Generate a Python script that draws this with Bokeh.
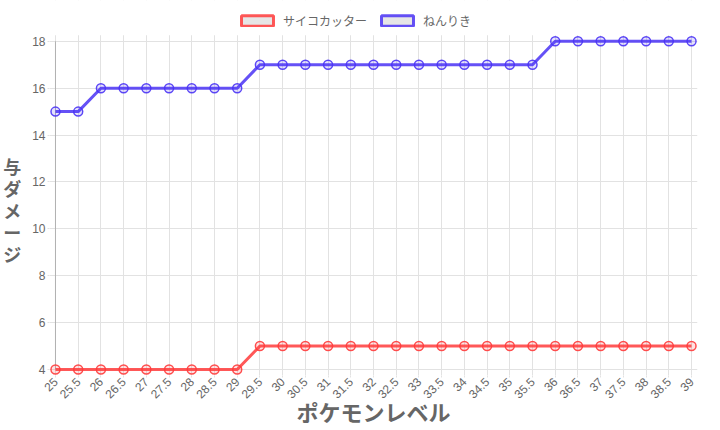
import math
from bokeh.plotting import figure
from bokeh.models import (ColumnDataSource, Range1d, FixedTicker, Legend, LegendItem, BoxAnnotation)
from bokeh.embed import file_html
from bokeh.resources import INLINE

levels = [25, 25.5, 26, 26.5, 27, 27.5, 28, 28.5, 29, 29.5, 30, 30.5, 31, 31.5, 32,
          32.5, 33, 33.5, 34, 34.5, 35, 35.5, 36, 36.5, 37, 37.5, 38, 38.5, 39]
level_labels = ["25", "25.5", "26", "26.5", "27", "27.5", "28", "28.5", "29", "29.5",
                "30", "30.5", "31", "31.5", "32", "32.5", "33", "33.5", "34", "34.5",
                "35", "35.5", "36", "36.5", "37", "37.5", "38", "38.5", "39"]
psycho_cut = [4, 4, 4, 4, 4, 4, 4, 4, 4, 5, 5, 5, 5, 5, 5, 5, 5, 5, 5, 5, 5, 5, 5, 5, 5, 5, 5, 5, 5]
confusion = [15, 15, 16, 16, 16, 16, 16, 16, 16, 17, 17, 17, 17, 17, 17, 17, 17, 17, 17, 17,
             17, 17, 18, 18, 18, 18, 18, 18, 18]
y_ticks = [4, 6, 8, 10, 12, 14, 16, 18]
series_names = ["サイコカッター", "ねんりき"]
x_title = "ポケモンレベル"
y_title = "与ダメージ"

RED = "#ff3b3b"
BLUE = "#4a33f5"
GRID = "#e2e2e2"
TXT = "#666666"
NUM_FONT = "Liberation Sans"
JP_FONT = "Noto Sans CJK JP"

# layout in pixels
W, H = 720, 430
PLOT_L, PLOT_R, PLOT_T, PLOT_B = 53, 691, 41, 371   # where the data area sits
PAD = 6
FRAME_L, FRAME_R, FRAME_T, FRAME_B = PLOT_L - PAD, PLOT_R + PAD, 0, PLOT_B + PAD
px_x = (PLOT_R - PLOT_L) / (levels[-1] - levels[0])
px_y = (PLOT_B - PLOT_T) / (y_ticks[-1] - y_ticks[0])
x0 = levels[0] - PAD / px_x
x1 = levels[-1] + PAD / px_x
y0 = y_ticks[0] - PAD / px_y
y1 = y_ticks[-1] + (PLOT_T - FRAME_T) / px_y

p = figure(width=W, height=H, output_backend="svg", toolbar_location=None,
           x_range=Range1d(x0, x1), y_range=Range1d(y0, y1),
           min_border_left=FRAME_L, min_border_right=W - FRAME_R,
           min_border_top=FRAME_T, min_border_bottom=H - FRAME_B)
p.outline_line_color = None
p.background_fill_color = "white"
p.border_fill_color = "white"

p.xgrid.grid_line_color = GRID
p.ygrid.grid_line_color = GRID

# left axis border line at the first level
p.segment(x0=[levels[0]], y0=[y_ticks[0]], x1=[levels[0]], y1=[y_ticks[-1]],
          line_color="#b0b0b0", line_width=1)

# hide grid above the top value (legend area)
p.add_layout(BoxAnnotation(bottom=y_ticks[-1] + PAD / px_y, fill_color="white", fill_alpha=1,
                           line_color=None, level="underlay"))

src = ColumnDataSource(dict(x=levels, a=psycho_cut, b=confusion))

p.line("x", "a", source=src, line_color=RED, line_width=3, line_alpha=0.85)
p.scatter("x", "a", source=src, size=9, line_color=RED, line_width=1.5,
          fill_color=RED, fill_alpha=0.15, line_alpha=0.9)
p.line("x", "b", source=src, line_color=BLUE, line_width=3, line_alpha=0.85)
p.scatter("x", "b", source=src, size=9, line_color=BLUE, line_width=1.5,
          fill_color=BLUE, fill_alpha=0.15, line_alpha=0.9)

# axes
p.xaxis.ticker = FixedTicker(ticks=levels)
p.xaxis.major_label_overrides = {v: s for v, s in zip(levels, level_labels)}
p.xaxis.major_label_orientation = math.pi / 4
p.yaxis.ticker = FixedTicker(ticks=y_ticks)
for ax in (p.xaxis[0], p.yaxis[0]):
    ax.major_label_text_color = TXT
    ax.major_label_text_font = NUM_FONT
    ax.major_label_text_font_size = "12px"
    ax.major_tick_in = 0
    ax.major_tick_out = 2
    ax.major_tick_line_color = GRID
    ax.minor_tick_line_color = None
    ax.axis_line_color = None
    ax.major_label_standoff = 2

p.xaxis.axis_label = x_title
p.xaxis.axis_label_text_font = JP_FONT
p.xaxis.axis_label_text_font_style = "bold"
p.xaxis.axis_label_text_font_size = "22px"
p.xaxis.axis_label_text_color = TXT
p.xaxis.axis_label_standoff = -10

# vertical (stacked) y title; two leading blank lines lower it to the reference position
p.yaxis.axis_label = "\n\n" + "\n".join(list(y_title))
p.yaxis.axis_label_orientation = "horizontal"
p.yaxis.axis_label_text_font = JP_FONT
p.yaxis.axis_label_text_font_style = "bold"
p.yaxis.axis_label_text_font_size = "18px"
p.yaxis.axis_label_text_color = TXT
p.yaxis.axis_label_text_line_height = 0.85
p.yaxis.axis_label_standoff = 8

# legend (inside the frame, in the strip above the data)
box = ColumnDataSource(dict(l=[levels[0]], r=[levels[0]], t=[y_ticks[0]], b=[y_ticks[0]]))
r1 = p.quad(left="l", right="r", top="t", bottom="b", source=box,
            fill_color="#e6e6e6", line_color=RED, line_width=3, line_alpha=0.85, visible=False)
r2 = p.quad(left="l", right="r", top="t", bottom="b", source=box,
            fill_color="#e6e6e6", line_color=BLUE, line_width=3, line_alpha=0.85, visible=False)
legend = Legend(items=[LegendItem(label=series_names[0], renderers=[r1]),
                       LegendItem(label=series_names[1], renderers=[r2])],
                orientation="horizontal", location=(235 - FRAME_L, FRAME_B - 31),
                glyph_width=40, glyph_height=13, label_height=13,
                label_text_font=JP_FONT, label_text_font_size="12px", label_text_color=TXT,
                label_standoff=6, spacing=10, padding=0, margin=0,
                inactive_fill_alpha=0, click_policy="none",
                border_line_color=None, background_fill_alpha=0)
p.add_layout(legend, "center")

open("out.html", "w").write(file_html(p, INLINE))
